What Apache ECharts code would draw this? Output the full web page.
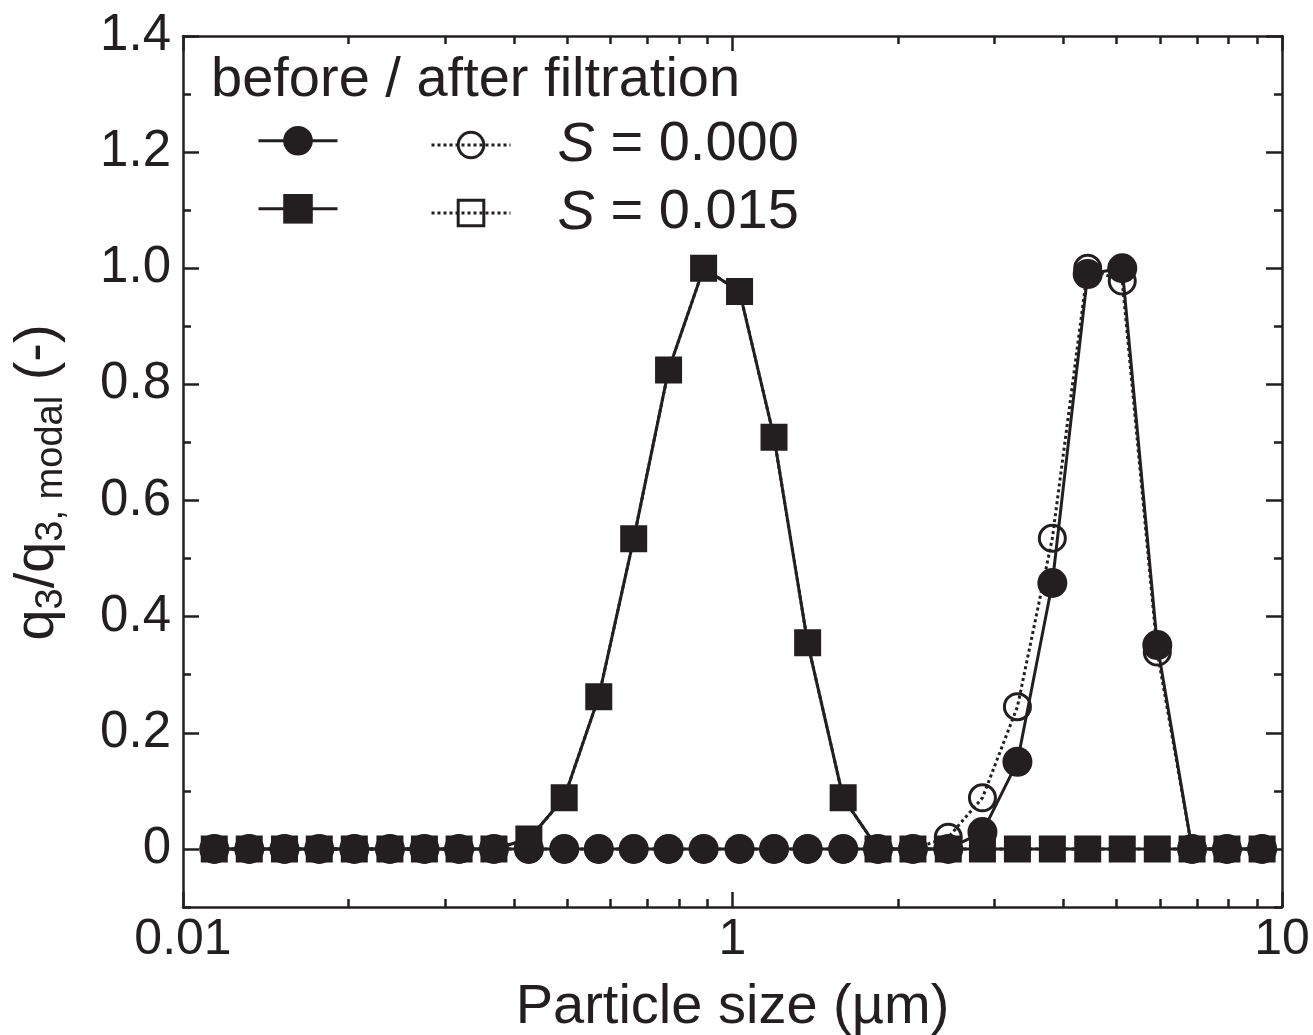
<!DOCTYPE html>
<html><head><meta charset="utf-8">
<script src="https://cdn.jsdelivr.net/npm/echarts@6/dist/echarts.min.js"></script>
<style>html,body{margin:0;padding:0;background:#fff}#c{width:1313px;height:1035px}</style>
</head><body><div id="c"></div>
<script>
// Particle size bins (µm)
const particleSize = [0.114, 0.132, 0.153, 0.177, 0.205, 0.238, 0.275, 0.318, 0.368, 0.426,
  0.494, 0.571, 0.661, 0.765, 0.886, 1.03, 1.19, 1.37, 1.59, 1.84,
  2.13, 2.47, 2.85, 3.30, 3.82, 4.43, 5.12, 5.93, 6.86, 7.94, 9.20];
// q3 / q3,modal
const beforeS000 = [0,0,0,0,0,0,0,0,0,0, 0,0,0,0,0,0,0,0,0,0, 0,0,0.029,0.15,0.458,0.99,1.0,0.351,0,0,0];
const afterS000  = [0,0,0,0,0,0,0,0,0,0, 0,0,0,0,0,0,0,0,0,0, 0,0.02,0.088,0.245,0.535,1.0,0.978,0.339,0,0,0];
const beforeS015 = [0,0,0,0,0,0,0,0,0,0.017, 0.088,0.262,0.534,0.825,1.0,0.96,0.709,0.355,0.088,0, 0,0,0,0,0,0,0,0,0,0,0];
const afterS015  = [0,0,0,0,0,0,0,0,0,0.017, 0.088,0.262,0.534,0.825,1.0,0.96,0.709,0.355,0.088,0, 0,0,0,0,0,0,0,0,0,0,0];

const seriesNames = ['before filtration, S = 0.000', 'before filtration, S = 0.015',
                     'after filtration, S = 0.000', 'after filtration, S = 0.015'];
const legendLabels = ['0.000', '0.015'];
const legendTitle = 'before / after filtration';

const xTickValues = [0.1, 1, 10];
const xTickLabels = ['0.01', '1', '10'];
const xMinorTicks = [0.2,0.3,0.4,0.5,0.6,0.7,0.8,0.9,2,3,4,5,6,7,8,9];
const yTickValues = [0, 0.2, 0.4, 0.6, 0.8, 1.0, 1.2, 1.4];
const yTickLabels = ['0', '0.2', '0.4', '0.6', '0.8', '1.0', '1.2', '1.4'];
const yMinorTicks = [-0.1, 0.1, 0.3, 0.5, 0.7, 0.9, 1.1, 1.3];

const FONT = "'Liberation Sans', Arial, Helvetica, sans-serif";
const INK = '#231f20';

function pairs(vals) { return particleSize.map((x, i) => [x, vals[i]]); }

const chart = echarts.init(document.getElementById('c'), null, {renderer: 'canvas'});

const xBase = {type: 'log', logBase: 10, min: 0.1, max: 10, gridIndex: 0, splitLine: {show: false}};
const yBase = {type: 'value', min: -0.1, max: 1.4, interval: 0.1, gridIndex: 0, splitLine: {show: false}};
const lineAx = {show: true, onZero: false, lineStyle: {color: INK, width: 2.5}};
const noLine = {show: false, onZero: false};
const tickStyle = {color: INK, width: 2.5};

function iconLegend(name, left, top, h) {
  return {
    data: [name], left: left, top: top, itemWidth: 79, itemHeight: h, padding: 0, selectedMode: false,
    formatter: () => '', textStyle: {fontSize: 10, lineHeight: 10},
    lineStyle: {width: 3}
  };
}
function textLegend(name, label, left, top, h) {
  return {
    data: [name], left: left, top: top, itemWidth: 79, itemHeight: h, padding: 0, selectedMode: false,
    lineStyle: {width: 3, type: 'dotted'},
    itemStyle: {borderWidth: 3, borderColor: INK, color: 'rgba(0,0,0,0)'},
    formatter: () => '{it|S}{n| = ' + label + '}',
    textStyle: {
      fontFamily: FONT, fontSize: 56, color: INK, padding: [0, 0, 0, 42],
      rich: {
        it: {fontFamily: FONT, fontSize: 56, fontStyle: 'italic', color: INK},
        n: {fontFamily: FONT, fontSize: 56, color: INK}
      }
    }
  };
}

const option = {
  animation: false,
  backgroundColor: '#fff',
  textStyle: {fontFamily: FONT, color: INK},
  grid: {left: 183, right: 31, top: 36, bottom: 128, containLabel: false, outerBoundsMode: 'none'},
  title: {
    text: legendTitle, left: 211, top: 53, padding: 0,
    textStyle: {fontFamily: FONT, fontSize: 56, fontWeight: 'normal', color: INK}
  },
  legend: [
    iconLegend(seriesNames[0], 257, 126, 37),
    iconLegend(seriesNames[1], 257, 194, 37),
    textLegend(seriesNames[2], legendLabels[0], 430, 117, 32),
    textLegend(seriesNames[3], legendLabels[1], 430, 185, 32)
  ],
  xAxis: [
    Object.assign({}, xBase, {
      position: 'bottom', axisLine: lineAx,
      axisTick: {show: true, inside: true, length: 15, lineStyle: tickStyle},
      axisLabel: {
        show: true, margin: 8, fontFamily: FONT, fontSize: 50, color: INK,
        showMinLabel: true, showMaxLabel: true, hideOverlap: false,
        formatter: (v) => {
          const i = xTickValues.findIndex(t => Math.abs(Math.log10(t) - Math.log10(v)) < 1e-6);
          return i >= 0 ? xTickLabels[i] : '';
        }
      },
      name: 'Particle size (µm)', nameLocation: 'middle', nameGap: 73,
      nameTextStyle: {fontFamily: FONT, fontSize: 56, color: INK}
    }),
    Object.assign({}, xBase, {
      position: 'bottom', axisLine: noLine, axisLabel: {show: false},
      axisTick: {show: true, inside: true, length: 8, customValues: xMinorTicks, lineStyle: tickStyle}
    }),
    Object.assign({}, xBase, {
      position: 'top', axisLine: lineAx, axisLabel: {show: false},
      axisTick: {show: true, inside: true, length: 15, lineStyle: tickStyle}
    }),
    Object.assign({}, xBase, {
      position: 'top', axisLine: noLine, axisLabel: {show: false},
      axisTick: {show: true, inside: true, length: 8, customValues: xMinorTicks, lineStyle: tickStyle}
    })
  ],
  yAxis: [
    Object.assign({}, yBase, {
      position: 'left', axisLine: lineAx,
      axisTick: {show: true, inside: true, length: 8, customValues: yMinorTicks, lineStyle: tickStyle},
      axisLabel: {
        show: true, margin: 12, fontFamily: FONT, fontSize: 51, color: INK, customValues: yTickValues,
        formatter: (v) => {
          const i = yTickValues.findIndex(t => Math.abs(t - v) < 1e-6);
          return i >= 0 ? yTickLabels[i] : '';
        }
      },
      name: '{a|q}{b|3}{a|/q}{b|3, modal}{a| (-)}', nameLocation: 'middle', nameGap: 112,
      nameTextStyle: {
        fontFamily: FONT, color: INK, padding: [0, 22, 0, 0],
        rich: {
          a: {fontFamily: FONT, fontSize: 56, color: INK, lineHeight: 66},
          b: {fontFamily: FONT, fontSize: 38, color: INK, lineHeight: 42, verticalAlign: 'bottom'}
        }
      }
    }),
    Object.assign({}, yBase, {
      position: 'left', axisLine: noLine, axisLabel: {show: false},
      axisTick: {show: true, inside: true, length: 16, customValues: yTickValues, lineStyle: tickStyle}
    }),
    Object.assign({}, yBase, {
      position: 'right', axisLine: lineAx, axisLabel: {show: false},
      axisTick: {show: true, inside: true, length: 8, customValues: yMinorTicks, lineStyle: tickStyle}
    }),
    Object.assign({}, yBase, {
      position: 'right', axisLine: noLine, axisLabel: {show: false},
      axisTick: {show: true, inside: true, length: 16, customValues: yTickValues, lineStyle: tickStyle}
    })
  ],
  series: [
    {
      name: seriesNames[3], type: 'line', xAxisIndex: 0, yAxisIndex: 0, data: pairs(afterS015), z: 2,
      symbol: 'rect', symbolSize: 24, showAllSymbol: true,
      lineStyle: {color: INK, width: 3, type: 'dotted'},
      itemStyle: {color: 'rgba(0,0,0,0)', borderColor: INK, borderWidth: 3}
    },
    {
      name: seriesNames[2], type: 'line', xAxisIndex: 0, yAxisIndex: 0, data: pairs(afterS000), z: 3,
      symbol: 'circle', symbolSize: 26, showAllSymbol: true,
      lineStyle: {color: INK, width: 3, type: 'dotted'},
      itemStyle: {color: 'rgba(0,0,0,0)', borderColor: INK, borderWidth: 3}
    },
    {
      name: seriesNames[1], type: 'line', xAxisIndex: 0, yAxisIndex: 0, data: pairs(beforeS015), z: 4,
      symbol: 'rect', symbolSize: 25, showAllSymbol: true,
      lineStyle: {color: INK, width: 3},
      itemStyle: {color: INK, borderWidth: 0}
    },
    {
      name: seriesNames[0], type: 'line', xAxisIndex: 0, yAxisIndex: 0, data: pairs(beforeS000), z: 5,
      symbol: 'circle', symbolSize: 30, showAllSymbol: true,
      lineStyle: {color: INK, width: 3},
      itemStyle: {color: INK, borderWidth: 0}
    }
  ]
};
chart.setOption(option);
</script>
</body></html>
